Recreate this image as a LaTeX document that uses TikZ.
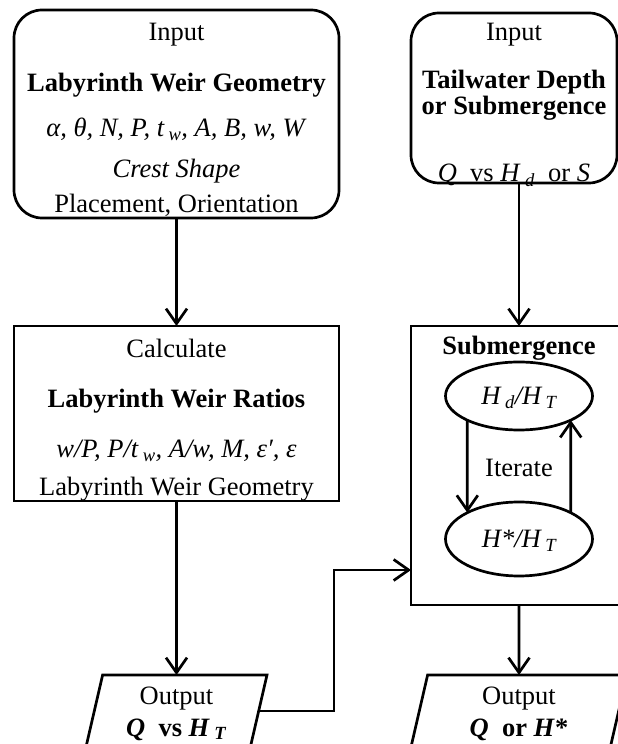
\documentclass[tikz,border=0pt]{standalone}
\usepackage{fontspec}
\setmainfont{Liberation Serif}
\usetikzlibrary{arrows.meta, positioning, shapes.geometric, calc}

\begin{document}
\begin{tikzpicture}[
  x=1pt, y=1pt,
  font=\fontsize{26.5}{30}\selectfont,
  box/.style={draw, line width=2.7pt, outer sep=0pt, inner sep=0pt, align=center},
  inbox/.style={box, rounded corners=28pt},
  outbox/.style={box, trapezium, trapezium left angle=77, trapezium right angle=103, trapezium stretches body=true, minimum height=72pt, text height=61pt, text depth=11pt},
  ratio/.style={draw, ellipse, line width=2.7pt, outer sep=0pt, inner sep=0pt, minimum width=147pt, text height=19pt, text depth=2pt},
  arr/.style={-{Straight Barb[length=15pt, width=21pt]}, line width=2.7pt},
]
  \useasboundingbox (0,0) rectangle (618,744);

  \node[inbox, minimum width=325pt, text height=203pt, text depth=5pt] (geom) at (176.5,630)
    {Input\\[21pt] \textbf{Labyrinth Weir Geometry}\\[15pt]
     \textit{α, θ, N, P, t\,\textsubscript{w}, A, B, w, W}\\[11pt]
     \textit{Crest Shape}\\[5pt] Placement, Orientation};
  \node[box, minimum width=325pt, text height=170pt, text depth=5pt, below=108pt of geom] (calc)
    {Calculate\\[20pt] \textbf{Labyrinth Weir Ratios}\\[20pt]
     \textit{w/P, P/t\,\textsubscript{w}, A/w, M, ε′, ε}\\[8pt] Labyrinth Weir Geometry};
  \node[outbox, minimum width=181pt, below=174pt of calc] (qht)
    {Output\\[2pt] \textbf{\textit{Q}\ \ vs \textit{H}\,\textsubscript{\textit{T}}}};

  \node[box, anchor=north west, minimum width=216pt, text height=29pt, text depth=250pt] (sub)
    at ([xshift=72pt]calc.north east) {\textbf{Submergence}};
  \node[inbox, minimum width=206pt, text height=169pt, text depth=1pt, above=143pt of sub, xshift=-5pt] (tail)
    {Input\\[18pt] \textbf{Tailwater Depth}\\[-4pt] \textbf{or Submergence}\\[37pt]
     \textit{Q}\ \ vs \textit{H}\,\textsubscript{\textit{d}}\ \ or \textit{S}};
  \node[outbox, minimum width=216pt, below=70pt of sub] (qh)
    {Output\\[2pt] \textbf{\textit{Q}\ \ or \textit{H}*}};

  \node[ratio, minimum height=68pt, below=36pt of sub.north] (hd) {\textit{H\,\textsubscript{d}/H\,\textsubscript{T}}};
  \node[ratio, minimum height=74pt, below=72pt of hd] (hs) {\textit{H*/H\,\textsubscript{T}}};
  \node (iter) at ($(hd)!0.5!(hs)$) {Iterate};

  \coordinate (bend) at (334,174);

  \draw[arr] (geom) -- (calc);
  \draw[arr] (calc) -- (qht);
  \draw[arr] (sub.north |- tail.south) -- (sub.north);
  \draw[arr] (sub) -- (qh);
  \draw[arr] (hd.205) -- (hs.153);
  \draw[arr] (hs.27) -- (hd.335);
  \draw[arr] (qht.east) -| (bend) -- (bend -| sub.west);
\end{tikzpicture}
\end{document}
